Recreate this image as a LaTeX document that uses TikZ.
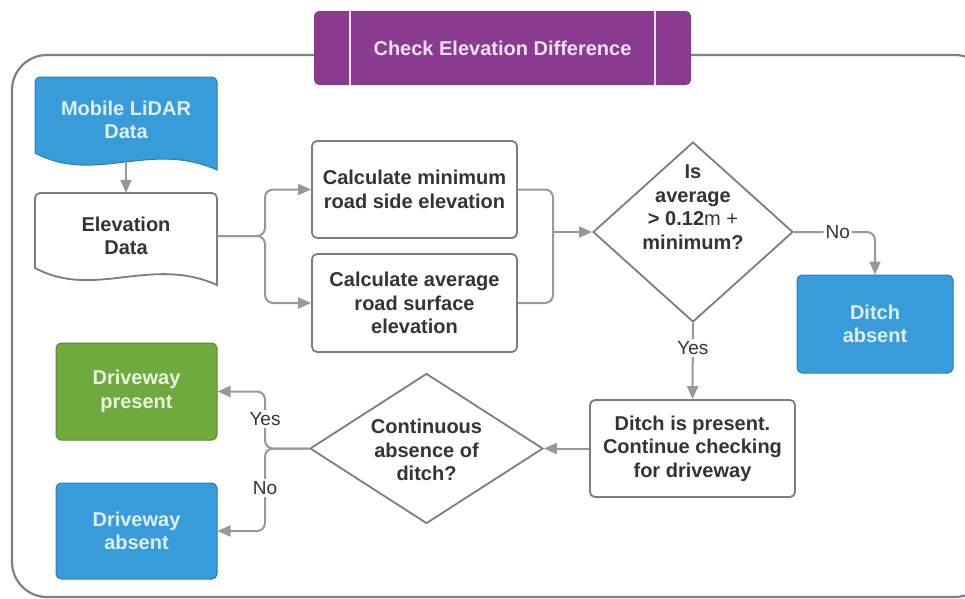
\documentclass[tikz,border=0pt]{standalone}
\usepackage{fontspec}
\setmainfont{Liberation Sans}
\usetikzlibrary{shapes.geometric,arrows.meta}

\definecolor{ink}{RGB}{52,52,52}
\definecolor{edge}{RGB}{125,125,125}
\definecolor{wire}{RGB}{152,152,152}
\definecolor{framegray}{RGB}{128,128,128}
\definecolor{flowblue}{RGB}{56,155,218}
\definecolor{flowgreen}{RGB}{110,170,62}
\definecolor{flowpurple}{RGB}{138,58,143}
\definecolor{bluetext}{RGB}{222,240,252}
\definecolor{greentext}{RGB}{236,246,222}
\definecolor{purpletext}{RGB}{242,226,242}

\begin{document}
\begin{tikzpicture}[x=1pt,y=-1pt,
  bigfont/.style={font=\fontsize{20}{23.5}\selectfont\bfseries},
  txt/.style={bigfont, text=ink, align=center, inner sep=0pt},
  whitebox/.style={txt, draw=edge, line width=1.8pt, fill=white,
    rounded corners=5pt, minimum width=205pt, minimum height=97pt},
  colbox/.style={bigfont, align=center, inner sep=0pt, fill=#1,
    draw=#1!80!black, line width=1pt, rounded corners=5pt,
    minimum width=161pt, minimum height=97pt},
  decision/.style={diamond, draw=edge, line width=1.8pt, fill=white, inner sep=0pt},
  conn/.style={draw=wire, line width=2pt},
  arr/.style={conn, -{Triangle[length=13pt,width=11pt]}},
  lbl/.style={fill=white, text=ink, font=\fontsize{19}{22}\selectfont, inner sep=2pt},
]
\useasboundingbox (0,0) rectangle (965,598);

% outer frame, running off the right edge
\begin{scope}
  \clip (0,0) rectangle (965,598);
  \draw[framegray, line width=2.2pt, rounded corners=35pt] (12,55) rectangle (990,597);
\end{scope}

% heading bar
\node[bigfont, fill=flowpurple, rounded corners=5pt, minimum width=377pt,
  minimum height=74pt, inner sep=0pt, text=purpletext] (title) at (502.5,48)
  {Check Elevation Difference};
\draw[purpletext, line width=1.6pt] (350,11) -- (350,85) (655,11) -- (655,85);

% document shapes: flat top, wavy bottom
\filldraw[fill=flowblue, draw=flowblue!80!black, line width=1pt]
  (35,153) [rounded corners=5pt] -- (35,77) -- (217,77) [sharp corners]
  -- (217,170) .. controls (150,140) and (95,185) .. (35,153) -- cycle;
\node[bigfont, text=bluetext, align=center, inner sep=0pt] (lidar) at (126,120)
  {Mobile LiDAR\\Data};
\coordinate (lidarwave) at (126,162);

\filldraw[fill=white, draw=edge, line width=1.8pt]
  (35,268) [rounded corners=5pt] -- (35,193) -- (217,193) [sharp corners]
  -- (217,285) .. controls (150,255) and (95,300) .. (35,268) -- cycle;
\node[txt, minimum width=182pt, minimum height=86pt] (elev) at (126,236)
  {Elevation\\Data};

% process boxes
\node[whitebox] (calcmin) at (414.5,189.5) {Calculate minimum\\road side elevation};
\node[whitebox, minimum height=98pt] (calcavg) at (414.5,303)
  {Calculate average\\road surface\\elevation};
\node[whitebox] (ditchp) at (692.5,448.5) {Ditch is present.\\Continue checking\\for driveway};

% decisions
\node[decision, minimum width=200pt, minimum height=180pt] (d1) at (693,232) {};
\node[txt] at (693,207) {Is\\average\\> 0.12{\mdseries m +}\\minimum?};
\node[decision, minimum width=233pt, minimum height=150pt] (d2) at (426.5,448.5) {};
\node[txt] at (426.5,450) {Continuous\\absence of\\ditch?};

% outcomes
\node[colbox=flowblue, text=bluetext, minimum width=156pt, minimum height=98pt]
  (ditcha) at (875,324) {Ditch\\absent};
\node[colbox=flowgreen, text=greentext] (dpres) at (136.5,391.5) {Driveway\\present};
\node[colbox=flowblue, text=bluetext, minimum height=96pt] (dabs) at (136.5,531)
  {Driveway\\absent};

% connectors
\draw[arr] (lidarwave) -- (elev.north);
\draw[arr, rounded corners=8pt] (elev.east) -- (265,236) |- (calcmin.west);
\draw[arr, rounded corners=8pt] (elev.east) -- (265,236) |- (calcavg.west);
\draw[conn, rounded corners=8pt] (calcmin.east) -| (553,232);
\draw[conn, rounded corners=8pt] (calcavg.east) -| (553,232);
\draw[arr] (553,232) -- (d1.west);
\draw[arr, rounded corners=8pt] (d1.east) -| node[lbl, pos=0.27] {No} (ditcha.north);
\draw[arr] (d1.south) -- node[lbl, pos=0.33] {Yes} (ditchp.north);
\draw[arr] (ditchp.west) -- (d2.east);
\draw[arr, rounded corners=8pt] (d2.west) -- (265,448.5) |- (dpres.east);
\draw[arr, rounded corners=8pt] (d2.west) -- (265,448.5) |- (dabs.east);
\node[lbl] at (265,419) {Yes};
\node[lbl] at (265,488) {No};
\end{tikzpicture}
\end{document}
